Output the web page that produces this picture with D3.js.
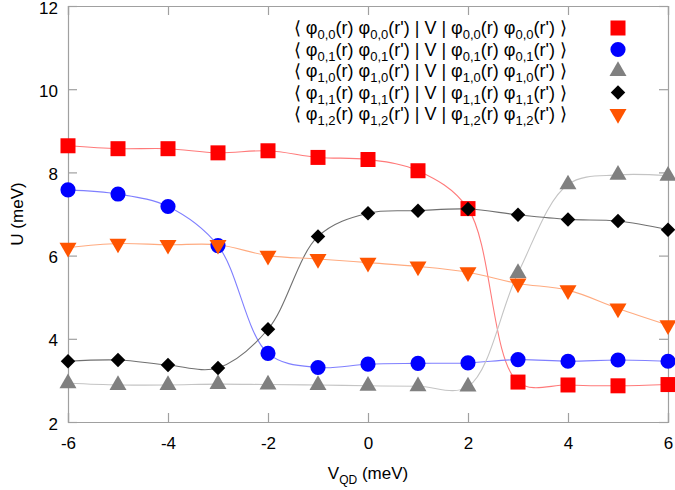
<!DOCTYPE html>
<html>
<head>
<meta charset="utf-8">
<script src="https://cdn.jsdelivr.net/npm/d3@7.9.0/dist/d3.min.js"></script>
<style>
  body { margin: 0; background: #fff; }
  svg { display: block; font-family: "Liberation Sans", Arial, Helvetica, sans-serif; }
</style>
</head>
<body>
<div id="chart"></div>
<script>
// V_QD values (meV)
const vqd = [-6, -5, -4, -3, -2, -1, 0, 1, 2, 3, 4, 5, 6];

// U values (meV) for each matrix element
const u00 = [8.64, 8.57, 8.57, 8.47, 8.52, 8.36, 8.31, 8.04, 7.13, 2.96, 2.89, 2.87, 2.90];
const u01 = [7.58, 7.48, 7.18, 6.24, 3.65, 3.31, 3.39, 3.41, 3.42, 3.50, 3.46, 3.49, 3.46];
const u10 = [2.93, 2.89, 2.89, 2.91, 2.90, 2.89, 2.87, 2.86, 2.85, 5.58, 7.71, 7.94, 7.92];
const u11 = [3.46, 3.49, 3.37, 3.30, 4.23, 6.46, 7.02, 7.08, 7.12, 6.98, 6.87, 6.83, 6.62];
const u12 = [6.19, 6.29, 6.26, 6.26, 6.00, 5.92, 5.83, 5.74, 5.60, 5.33, 5.17, 4.73, 4.33];

const labels = ['0,0', '0,1', '1,0', '1,1', '1,2'];
const xTicks = [-6, -4, -2, 0, 2, 4, 6];
const yTicks = [2, 4, 6, 8, 10, 12];

const series = [
  { values: u00, sub: labels[0], marker: 'square',   fill: '#ff0000', line: '#ff7a7a' },
  { values: u01, sub: labels[1], marker: 'circle',   fill: '#0000ff', line: '#7f7fff' },
  { values: u10, sub: labels[2], marker: 'triangle', fill: '#808080', line: '#c4c4c4' },
  { values: u11, sub: labels[3], marker: 'diamond',  fill: '#000000', line: '#707070' },
  { values: u12, sub: labels[4], marker: 'down',     fill: '#ff5400', line: '#ffab80' },
];

const width = 675;
const height = 490;
const margin = { top: 6, right: 7, bottom: 68, left: 68 };

const svg = d3.select('#chart')
  .append('svg')
  .attr('width', width)
  .attr('height', height);

const x = d3.scaleLinear().domain([-6, 6]).range([margin.left, width - margin.right]);
const y = d3.scaleLinear().domain([2, 12]).range([height - margin.bottom, margin.top]);

const frameColor = '#a0a0a0';
const tickLen = 9;

// axes with inward ticks, plain hyphen for negatives
const gx = svg.append('g')
  .attr('transform', `translate(0,${y(2)})`)
  .call(d3.axisBottom(x).tickValues(xTicks).tickSize(-tickLen).tickPadding(15)
    .tickFormat(d => String(d)));
const gxTop = svg.append('g')
  .attr('transform', `translate(0,${y(12)})`)
  .call(d3.axisTop(x).tickValues(xTicks).tickSize(-tickLen).tickFormat(''));
const gy = svg.append('g')
  .attr('transform', `translate(${x(-6)},0)`)
  .call(d3.axisLeft(y).tickValues(yTicks).tickSize(-tickLen).tickPadding(10)
    .tickFormat(d => String(d)));
const gyRight = svg.append('g')
  .attr('transform', `translate(${x(6)},0)`)
  .call(d3.axisRight(y).tickValues(yTicks).tickSize(-tickLen).tickFormat(''));

[gx, gxTop, gy, gyRight].forEach(g => {
  g.select('.domain').attr('stroke', frameColor).attr('stroke-width', 1.2);
  g.selectAll('.tick line').attr('stroke', frameColor).attr('stroke-width', 1.2);
  g.selectAll('.tick text').attr('fill', '#000').style('font-size', '17px')
    .style('font-family', '"Liberation Sans", Arial, sans-serif');
});
gy.selectAll('.tick text').attr('dy', '0.42em');

// axis titles
svg.append('text')
  .attr('transform', `translate(23,${(y(2) + y(12)) / 2}) rotate(-90)`)
  .attr('text-anchor', 'middle')
  .style('font-size', '17px')
  .text('U (meV)');

const xt = svg.append('text')
  .attr('x', x(0))
  .attr('y', 479)
  .attr('text-anchor', 'middle')
  .style('font-size', '17px');
xt.append('tspan').text('V');
xt.append('tspan').attr('dy', 5).style('font-size', '12px').text('QD');
xt.append('tspan').attr('dy', -5).text(' (meV)');

// marker shapes
function markerPath(kind) {
  if (kind === 'square') return d3.symbol(d3.symbolSquare, 225)();
  if (kind === 'circle') return d3.symbol(d3.symbolCircle, 180)();
  if (kind === 'diamond') return d3.symbol(d3.symbolSquare, 105)();
  return d3.symbol(d3.symbolTriangle, 125)();
}
function markerRotate(kind) {
  if (kind === 'diamond') return 45;
  if (kind === 'down') return 180;
  return 0;
}

const line = d3.line()
  .x((d, i) => x(vqd[i]))
  .y(d => y(d))
  .curve(d3.curveCatmullRom.alpha(0.5));

const plot = svg.append('g');

series.forEach(s => {
  plot.append('path')
    .datum(s.values)
    .attr('fill', 'none')
    .attr('stroke', s.line)
    .attr('stroke-width', 1.1)
    .attr('d', line);
});

series.forEach(s => {
  plot.append('g')
    .selectAll('path')
    .data(s.values)
    .join('path')
    .attr('d', markerPath(s.marker))
    .attr('transform', (d, i) => `translate(${x(vqd[i])},${y(d)}) rotate(${markerRotate(s.marker)})`)
    .attr('fill', s.fill);
});

// legend
const legend = svg.append('g');
const rowY0 = 28;
const rowStep = 21.5;

series.forEach((s, i) => {
  const ry = rowY0 + i * rowStep;
  const t = legend.append('text')
    .attr('x', 567)
    .attr('y', ry + 6)
    .attr('text-anchor', 'end')
    .style('font-size', '18px');
  const parts = [
    ['⟨ φ', false], [s.sub, true], ['(r) φ', false], [s.sub, true],
    ["(r') | V | φ", false], [s.sub, true], ['(r) φ', false], [s.sub, true], ["(r') ⟩", false]
  ];
  let shifted = false;
  parts.forEach(([txt, isSub]) => {
    const sp = t.append('tspan').text(txt);
    if (isSub) {
      sp.attr('dy', 5).style('font-size', '13px');
      shifted = true;
    } else if (shifted) {
      sp.attr('dy', -5);
      shifted = false;
    }
  });

  legend.append('path')
    .attr('d', markerPath(s.marker))
    .attr('transform', `translate(618,${ry}) rotate(${markerRotate(s.marker)})`)
    .attr('fill', s.fill);
});
</script>
</body>
</html>
